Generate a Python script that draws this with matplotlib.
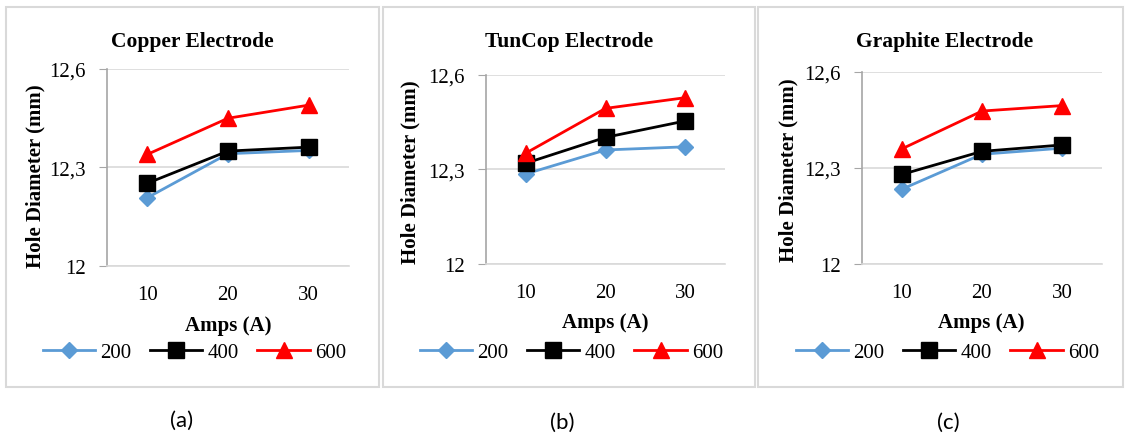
import matplotlib
matplotlib.use('Agg')
import matplotlib.pyplot as plt
from matplotlib.patches import Rectangle

# Data
amps = ['10', '20', '30']
series_labels = ['200', '400', '600']
titles = ['Copper Electrode', 'TunCop Electrode', 'Graphite Electrode']
captions = ['(a)', '(b)', '(c)']

copper_200 = [12.208, 12.342, 12.352]
copper_400 = [12.252, 12.350, 12.362]
copper_600 = [12.340, 12.450, 12.490]

tuncop_200 = [12.286, 12.362, 12.372]
tuncop_400 = [12.320, 12.402, 12.454]
tuncop_600 = [12.352, 12.494, 12.528]

graphite_200 = [12.234, 12.343, 12.362]
graphite_400 = [12.280, 12.352, 12.372]
graphite_600 = [12.360, 12.478, 12.495]

y_ticks = [12.0, 12.3, 12.6]
y_tick_labels = ['12', '12,3', '12,6']

panels = [
    (copper_200, copper_400, copper_600),
    (tuncop_200, tuncop_400, tuncop_600),
    (graphite_200, graphite_400, graphite_600),
]

W, H = 1126, 439
fig = plt.figure(figsize=(W / 100, H / 100), dpi=100)
fig.patch.set_facecolor('white')

def px(x0, y0, x1, y1):
    # pixel box (top-left origin) -> figure fraction rect
    return [x0 / W, 1 - y1 / H, (x1 - x0) / W, (y1 - y0) / H]

def fx(x):
    return x / W

def fy(y):
    return 1 - y / H

frames = [(6, 8, 379, 388), (383, 8, 755, 388), (758, 8, 1123, 388)]
axes_boxes = [(107, 70, 349, 267), (486, 76, 725, 265), (862, 73, 1102, 265)]
title_pos = [(192, 42), (569, 42), (945, 42)]
ylabel_pos = [(35, 176), (410, 172), (788, 170)]
xlabel_pos = [(228, 326), (605, 323), (981, 323)]
legend_pos = [(43, 353), (420, 353), (796, 353)]
caption_pos = [(182, 421), (562, 423), (948, 423)]

styles = [
    dict(color='#5B9BD5', marker='D', markersize=8),
    dict(color='black', marker='s', markersize=11),
    dict(color='#FF0000', marker='^', markersize=11),
]

serif = 'Liberation Serif'

for i, vals in enumerate(panels):
    x0, y0, x1, y1 = frames[i]
    fig.patches.append(Rectangle((fx(x0), fy(y1)), (x1 - x0) / W, (y1 - y0) / H,
                                 transform=fig.transFigure, fill=False,
                                 edgecolor='#D9D9D9', linewidth=1.5))
    ax = fig.add_axes(px(*axes_boxes[i]))
    x = list(range(1, len(amps) + 1))
    lines = []
    for s, st in zip(vals, styles):
        ln, = ax.plot(x, s, lw=2, **st)
        lines.append(ln)
    ax.set_xlim(0.5, 3.5)
    ax.set_ylim(12.0, 12.6)
    ax.set_yticks(y_ticks)
    ax.set_yticklabels(y_tick_labels, fontname=serif, fontsize=15)
    ax.set_xticks(x)
    ax.set_xticklabels(amps, fontname=serif, fontsize=15)
    ax.tick_params(axis='x', length=0, pad=14)
    ax.tick_params(axis='y', length=6, color='#A6A6A6', pad=9)
    ax.grid(axis='y', color='#D9D9D9', lw=1.2)
    ax.set_axisbelow(True)
    for sp in ['top', 'right']:
        ax.spines[sp].set_visible(False)
    ax.spines['left'].set_color('#A6A6A6')
    ax.spines['bottom'].set_color('#D9D9D9')
    ax.spines['left'].set_linewidth(1.2)
    ax.spines['bottom'].set_linewidth(1.2)

    fig.text(fx(title_pos[i][0]), fy(title_pos[i][1]), titles[i], ha='center', va='center',
             fontname=serif, fontweight='bold', fontsize=15.5)
    fig.text(fx(ylabel_pos[i][0]), fy(ylabel_pos[i][1]), 'Hole Diameter (mm)', ha='center',
             va='center', rotation=90, fontname=serif, fontweight='bold', fontsize=15)
    fig.text(fx(xlabel_pos[i][0]), fy(xlabel_pos[i][1]), 'Amps (A)', ha='center', va='center',
             fontname=serif, fontweight='bold', fontsize=15)
    fig.legend(lines, series_labels, loc='center left',
               bbox_to_anchor=(fx(legend_pos[i][0]), fy(legend_pos[i][1])),
               ncol=3, frameon=False, prop={'family': serif, 'size': 15},
               handlelength=2.5, columnspacing=0.9, handletextpad=0.25,
               borderpad=0, borderaxespad=0)
    fig.text(fx(caption_pos[i][0]), fy(caption_pos[i][1]), captions[i], ha='center', va='center',
             fontname='Lato', fontsize=16)

fig.savefig('out.png', dpi=100, facecolor='white')
